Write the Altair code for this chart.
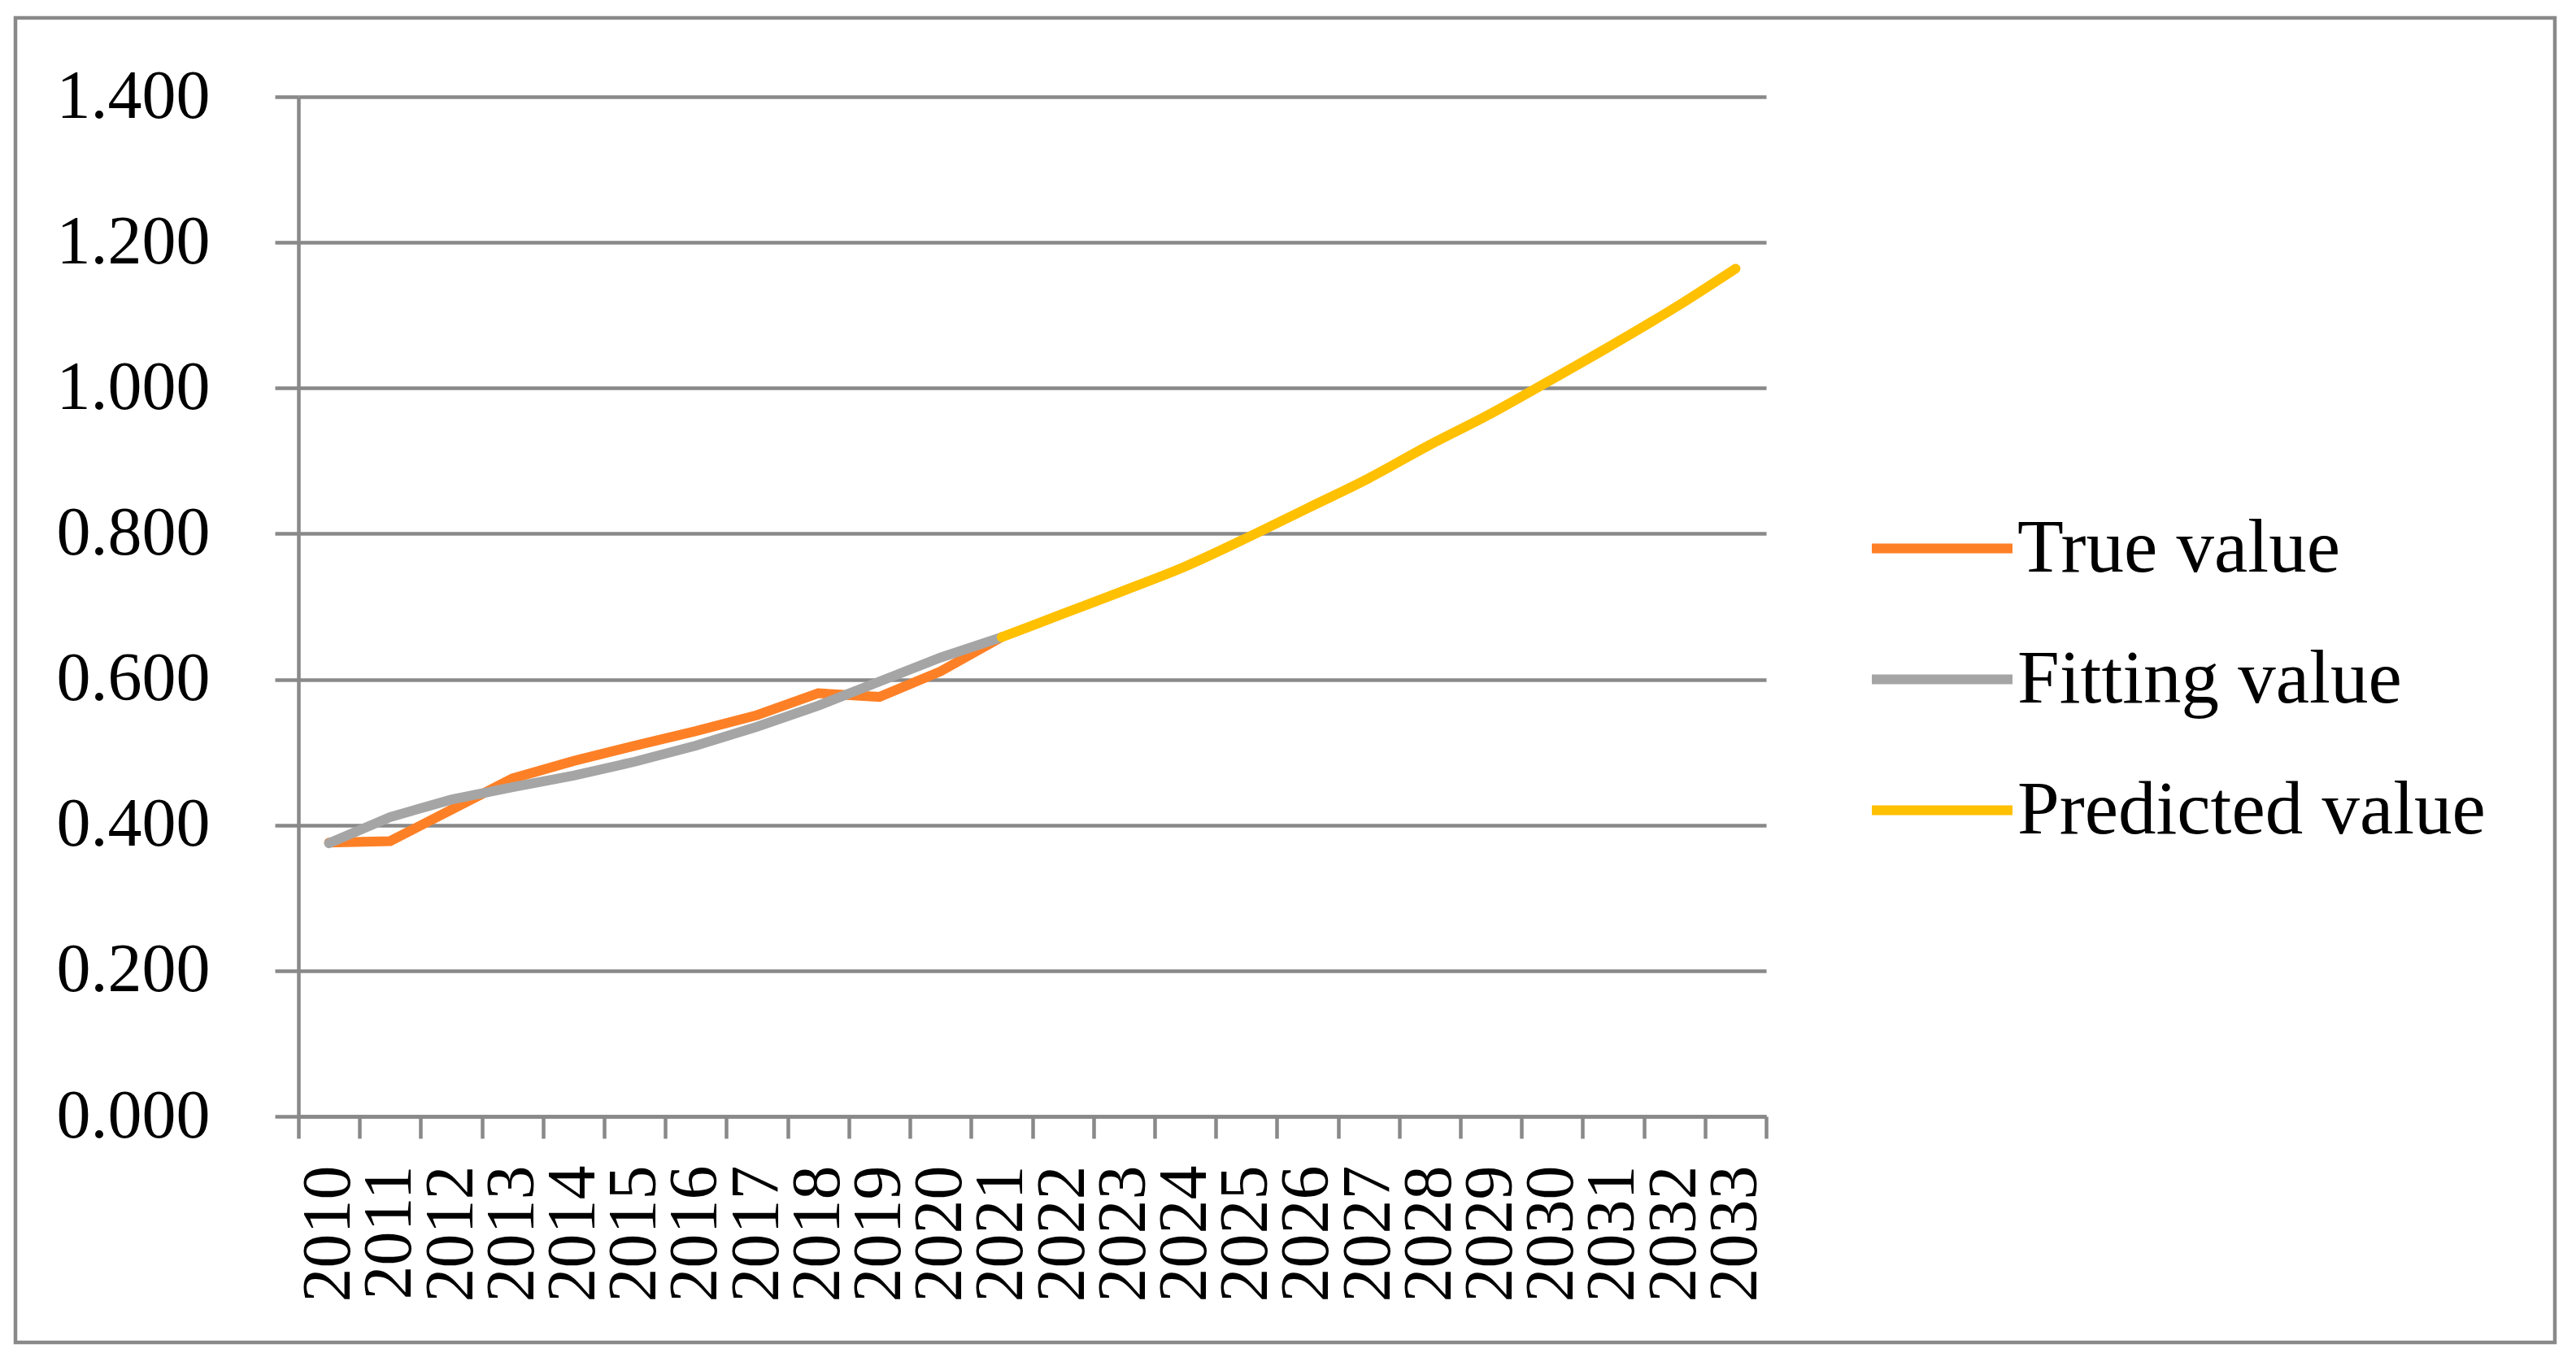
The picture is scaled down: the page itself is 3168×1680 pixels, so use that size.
import altair as alt
import pandas as pd

years = [str(y) for y in range(2010, 2034)]
true_years = years[:12]
true_vals = [0.376, 0.378, 0.421, 0.464, 0.488, 0.509, 0.529, 0.551, 0.581, 0.576, 0.611, 0.658]
fit_years = years[:12]
fit_vals = [0.375, 0.411, 0.435, 0.452, 0.468, 0.487, 0.509, 0.535, 0.564, 0.597, 0.630, 0.658]
pred_years = years[11:]
pred_vals = [0.658, 0.690, 0.722, 0.755, 0.794, 0.835, 0.876, 0.922, 0.965, 1.012, 1.060, 1.110, 1.164]
series = ["True value", "Fitting value", "Predicted value"]
colors = ["#FE8026", "#A5A5A5", "#FFC000"]
interps = ["linear", "linear", "monotone"]
y_ticks = [0.0, 0.2, 0.4, 0.6, 0.8, 1.0, 1.2, 1.4]

rows = []
for s, ys, vs in zip(series, [true_years, fit_years, pred_years], [true_vals, fit_vals, pred_vals]):
    for y, v in zip(ys, vs):
        rows.append({"year": y, "value": v, "series": s})
df = pd.DataFrame(rows)

FONT = "Liberation Serif"
GRID = "#898989"

x_enc = alt.X("year:O",
              scale=alt.Scale(type="band", domain=years, paddingInner=0, paddingOuter=0),
              axis=alt.Axis(title=None, labelAngle=-90, labelFont=FONT, labelFontSize=84,
                            labelColor="black", tickBand="extent", tickSize=27, tickColor=GRID,
                            tickWidth=4.5, domainColor=GRID, domainWidth=4.5, labelPadding=33,
                            labelLimit=1000, grid=False))
y_enc = alt.Y("value:Q",
              scale=alt.Scale(domain=[0, 1.4], nice=False),
              axis=alt.Axis(title=None, values=y_ticks, format=".3f", labelFont=FONT,
                            labelFontSize=84, labelColor="black", tickSize=29, tickColor=GRID,
                            tickWidth=4.5, domainColor=GRID, domainWidth=4.5, labelPadding=80,
                            labelLimit=1000, grid=True, gridColor=GRID, gridWidth=4.5))
color_enc = alt.Color("series:N",
                      scale=alt.Scale(domain=series, range=colors),
                      legend=alt.Legend(title=None, orient="none", legendX=1929, legendY=463,
                                        symbolType="stroke", symbolSize=29929,
                                        symbolStrokeWidth=12, labelFont=FONT, labelFontSize=93,
                                        labelColor="black", labelOffset=0, rowPadding=21,
                                        padding=0, labelLimit=1000))

layers = []
for s, ip in zip(series, interps):
    layers.append(
        alt.Chart(df).transform_filter(alt.datum.series == s)
        .mark_line(strokeWidth=12, strokeCap="round", interpolate=ip)
        .encode(x=x_enc, y=y_enc, color=color_enc)
    )

frame = alt.Chart(alt.Data(values=[{"a": 1}])).mark_rect(
    fill=None, stroke=GRID, strokeWidth=4.5
).encode(x=alt.value(-348), x2=alt.value(2775), y=alt.value(-97), y2=alt.value(1532))

chart = alt.layer(*layers, frame).properties(
    width=1805, height=1254,
    autosize=alt.AutoSizeParams(type="none"),
    padding={"left": 359, "top": 111, "right": 985, "bottom": 288},
    background="white",
).configure_view(stroke=None)

chart.save("out.html", embed_options={"renderer": "svg", "actions": False})
